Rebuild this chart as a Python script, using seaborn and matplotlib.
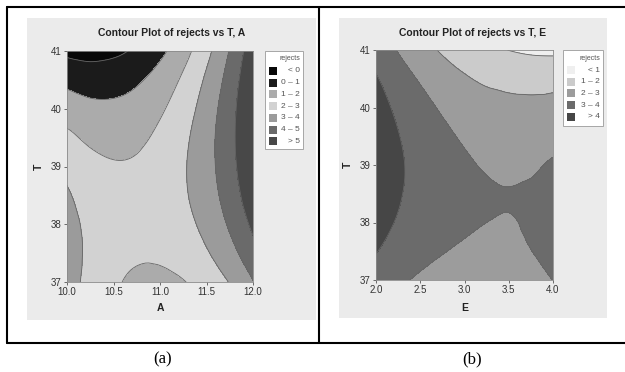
import numpy as np
import matplotlib
matplotlib.use("Agg")
import matplotlib.pyplot as plt
import matplotlib.tri as mtri
from matplotlib.patches import Rectangle
from matplotlib.lines import Line2D
import seaborn as sns

# ---- panel (a): rejects vs T, A
A_vals = [10.0, 10.25, 10.5, 10.75, 11.0, 11.25, 11.5, 11.75, 12.0]
T_vals = [37.0, 37.5, 38.0, 38.5, 39.0, 39.5, 40.0, 40.5, 41.0]
rejects_TA = [
    [3.46, 2.68, 2.14, 1.84, 1.78, 1.96, 2.39, 3.05, 3.96],
    [3.48, 2.78, 2.33, 2.11, 2.14, 2.40, 2.91, 3.66, 4.65],
    [3.37, 2.75, 2.38, 2.24, 2.35, 2.70, 3.29, 4.13, 5.20],
    [3.11, 2.58, 2.29, 2.24, 2.43, 2.87, 3.54, 4.46, 5.62],
    [2.72, 2.27, 2.07, 2.10, 2.38, 2.90, 3.65, 4.65, 5.89],
    [2.20, 1.83, 1.71, 1.83, 2.19, 2.79, 3.63, 4.71, 6.03],
    [1.53, 1.25, 1.21, 1.41, 1.86, 2.54, 3.46, 4.63, 6.04],
    [0.73, 0.53, 0.58, 0.86, 1.39, 2.16, 3.16, 4.41, 5.90],
    [-0.21, -0.32, -0.19, 0.17, 0.78, 1.63, 2.73, 4.06, 5.63],
]
levels_a = [0, 1, 2, 3, 4, 5]
labels_a = ["< 0", "0 \u2013 1", "1 \u2013 2", "2 \u2013 3", "3 \u2013 4", "4 \u2013 5", "> 5"]
A_ticks = [10.0, 10.5, 11.0, 11.5, 12.0]

# ---- panel (b): rejects vs T, E
E_vals = [2.0, 2.25, 2.5, 2.75, 3.0, 3.25, 3.5, 3.75, 4.0]
rejects_TE = [
    [3.56, 3.17, 2.87, 2.66, 2.55, 2.52, 2.59, 2.75, 3.01],
    [4.04, 3.61, 3.28, 3.04, 2.89, 2.83, 2.86, 2.99, 3.20],
    [4.38, 3.92, 3.55, 3.28, 3.10, 3.00, 2.97, 3.07, 3.27],
    [4.59, 4.09, 3.69, 3.38, 3.17, 3.06, 3.02, 3.08, 3.20],
    [4.66, 4.14, 3.70, 3.35, 3.10, 2.94, 2.87, 2.89, 3.10],
    [4.60, 4.04, 3.57, 3.19, 2.90, 2.71, 2.60, 2.59, 2.67],
    [4.41, 3.81, 3.31, 2.89, 2.57, 2.36, 2.30, 2.28, 2.38],
    [4.08, 3.45, 2.91, 2.46, 2.10, 1.84, 1.66, 1.58, 1.59],
    [3.62, 2.95, 2.38, 1.89, 1.50, 1.20, 0.99, 0.88, 0.85],
]
levels_b = [1, 2, 3, 4]
labels_b = ["< 1", "1 \u2013 2", "2 \u2013 3", "3 \u2013 4", "> 4"]
E_ticks = [2.0, 2.5, 3.0, 3.5, 4.0]
T_ticks = [37, 38, 39, 40, 41]

greys_a = ["#080808", "#1b1b1b", "#ababab", "#d2d2d2", "#9b9b9b", "#6a6a6a", "#484848"]
greys_b = ["#efefef", "#cbcbcb", "#9c9c9c", "#6b6b6b", "#464646"]

sns.set_theme(style="white")
plt.rcParams["font.family"] = ["Liberation Sans Narrow", "Liberation Sans", "DejaVu Sans"]

W, H = 625, 372
fig = plt.figure(figsize=(W / 100, H / 100), dpi=100)


def fx(x):
    return x / W


def fy(y):
    return 1 - y / H


def panel(box, ax_px, xs, zs, levels, greys, labels, xticks, xlab, title, leg_px):
    # grey minitab background
    x0, y0, x1, y1 = box
    fig.add_artist(Rectangle((fx(x0), fy(y1)), fx(x1 - x0), (y1 - y0) / H,
                             transform=fig.transFigure, facecolor="#ebebeb",
                             edgecolor="none", zorder=-5))
    l, t, r, b = ax_px
    ax = fig.add_axes([fx(l), fy(b), fx(r - l), (b - t) / H])

    # smooth the read grid with matplotlib's own tri refiner
    X, Y = np.meshgrid(xs, T_vals)
    z = np.array(zs).ravel()
    tri = mtri.Triangulation(X.ravel(), Y.ravel())
    interp = mtri.CubicTriInterpolator(tri, z, kind="geom")
    tri_f, z_f = mtri.UniformTriRefiner(tri).refine_field(z, triinterpolator=interp, subdiv=3)

    bounds = [-100] + levels + [100]
    ax.tricontourf(tri_f, z_f, levels=bounds, colors=greys)
    ax.tricontour(tri_f, z_f, levels=levels, colors="#666666", linewidths=0.6)
    ax.set_xlim(xs[0], xs[-1])
    ax.set_ylim(T_vals[0], T_vals[-1])
    ax.set_xticks(xticks)
    ax.set_xticklabels([f"{v:.1f}" for v in xticks])
    ax.set_yticks(T_ticks)
    ax.set_yticklabels([str(v) for v in T_ticks])
    ax.tick_params(axis="both", direction="out", length=2.5, width=0.6,
                   color="#555555", labelsize=7, labelcolor="#333333", pad=1.2,
                   left=True, bottom=True)
    for s in ax.spines.values():
        s.set_color("#8a8a8a")
        s.set_linewidth(0.6)

    fig.text(fx((x0 + x1) / 2), fy(33), title, ha="center", va="center",
             fontsize=7.5, fontweight="bold", color="#222222")
    fig.text(fx(l - 28), fy((t + b) / 2), "T", rotation=90, ha="center",
             va="center", fontsize=7.5, fontweight="bold", color="#222222")
    fig.text(fx((l + r) / 2), fy(308), xlab, ha="center", va="center",
             fontsize=7.5, fontweight="bold", color="#222222")

    # legend box
    lx0, ly0, lx1, ly1 = leg_px
    fig.add_artist(Rectangle((fx(lx0), fy(ly1)), fx(lx1 - lx0), (ly1 - ly0) / H,
                             transform=fig.transFigure, facecolor="white",
                             edgecolor="#9a9a9a", linewidth=0.6, zorder=3))
    fig.text(fx(lx1 - 3), fy(ly0 + 8), "rejects", ha="right", va="center",
             fontsize=5, color="#555555", zorder=4)
    for i, (c, lab) in enumerate(zip(greys, labels)):
        yc = ly0 + 20 + i * 11.7
        fig.add_artist(Rectangle((fx(lx0 + 4), fy(yc + 4)), fx(8), 8 / H,
                                 transform=fig.transFigure, facecolor=c,
                                 edgecolor="none", zorder=4))
        fig.text(fx(lx1 - 3), fy(yc), lab, ha="right", va="center",
                 fontsize=6, color="#555555", zorder=4)
    return ax


panel((27, 18, 316, 320), (67, 51, 253, 282), A_vals, rejects_TA, levels_a,
      greys_a, labels_a, A_ticks, "A", "Contour Plot of rejects vs T, A",
      (265, 51, 303, 149))
panel((339, 18, 607, 318), (376, 50, 553, 280), E_vals, rejects_TE, levels_b,
      greys_b, labels_b, E_ticks, "E", "Contour Plot of rejects vs T, E",
      (563, 50, 603, 126))

# table frame around the two figures
for (xa, ya, xb, yb) in [(7, 7, 625, 7), (7, 343, 625, 343), (7, 7, 7, 343), (319, 7, 319, 343)]:
    fig.add_artist(Line2D([fx(xa), fx(xb)], [fy(ya), fy(yb)],
                          transform=fig.transFigure, color="black", linewidth=1.5))

fig.text(fx(163), fy(359), "(a)", ha="center", va="center", fontsize=12,
         family="Liberation Serif", color="black")
fig.text(fx(472), fy(359), "(b)", ha="center", va="center", fontsize=12,
         family="Liberation Serif", color="black")

fig.savefig("out.png", dpi=100)
